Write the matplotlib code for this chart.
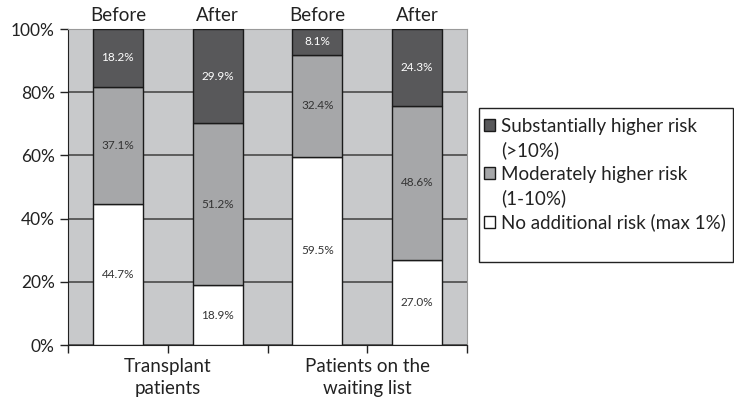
import matplotlib.pyplot as plt
from matplotlib.patches import Rectangle
import numpy as np

plt.rcParams['font.family'] = ['Lato', 'DejaVu Sans']

# data (percent)
bar_labels = ["Before", "After", "Before", "After"]
groups = ["Transplant\npatients", "Patients on the\nwaiting list"]
no_risk = [44.7, 18.9, 59.5, 27.0]
moderate = [37.1, 51.2, 32.4, 48.6]
substantial = [18.2, 29.9, 8.1, 24.3]
legend_lines = ["Substantially higher risk", "(>10%)",
                "Moderately higher risk", "(1-10%)",
                "No additional risk (max 1%)"]

colors = {"sub": "#58585a", "mod": "#a6a7a9", "no": "#ffffff"}
bg = "#c8c9cb"
txt = "#222222"

fig = plt.figure(figsize=(7.34, 3.98), dpi=100)
ax = fig.add_axes([68 / 734, 1 - 345 / 398, (467 - 68) / 734, (345 - 29) / 398])
ax.set_facecolor(bg)

x = np.arange(len(bar_labels))
w = 0.5
no_arr = np.array(no_risk)
mod_arr = np.array(moderate)
sub_arr = np.array(substantial)

b_no = ax.bar(x, no_arr, w, color=colors["no"], edgecolor="#1a1a1a", linewidth=1, zorder=3)
b_mod = ax.bar(x, mod_arr, w, bottom=no_arr, color=colors["mod"], edgecolor="#1a1a1a", linewidth=1, zorder=3)
b_sub = ax.bar(x, sub_arr, w, bottom=no_arr + mod_arr, color=colors["sub"], edgecolor="#1a1a1a", linewidth=1, zorder=3)

# value labels in the middle of each segment
for vals, bottoms, tc in [(no_arr, np.zeros(4), "#333333"),
                          (mod_arr, no_arr, "#333333"),
                          (sub_arr, no_arr + mod_arr, "white")]:
    for xi, v, b in zip(x, vals, bottoms):
        ax.text(xi, b + v / 2, f"{v:.1f}%", ha="center", va="center",
                fontsize=8.5, color=tc, zorder=4)

# bar titles above
for xi, lab in zip(x, bar_labels):
    ax.text(xi, 101.5, lab, ha="center", va="bottom", fontsize=13.5, color=txt)

ax.set_xlim(-0.5, 3.5)
ax.set_ylim(0, 100)
ax.set_yticks(np.arange(0, 101, 20))
ax.set_yticklabels([f"{v}%" for v in range(0, 101, 20)], fontsize=12.5, color=txt)
ax.yaxis.grid(True, color="#4a4a4a", linewidth=1.2, zorder=1)
ax.set_axisbelow(True)

ax.set_xticks([-0.5, 0.5, 1.5, 2.5, 3.5])
ax.set_xticklabels([])
for gx, g in zip([0.5, 2.5], groups):
    ax.text(gx, -4, g, ha="center", va="top", fontsize=13.5, color=txt,
            linespacing=1.35)

ax.tick_params(axis="both", length=6, width=1, color=txt)
for s in ["top", "right"]:
    ax.spines[s].set_color("#9a9a9a")
ax.spines["left"].set_color(txt)
ax.spines["bottom"].set_color(txt)

# legend: continuation lines get an empty handle
blank = Rectangle((0, 0), 1, 1, fill=False, edgecolor="none", linewidth=0)
handles = [b_sub[0], blank, b_mod[0], blank, b_no[0]]
leg = fig.legend(handles, legend_lines, loc="upper left",
                 bbox_to_anchor=(484 / 734, 1 - 118 / 398),
                 frameon=False, fontsize=13.5,
                 handlelength=0.6, handleheight=0.6, handletextpad=0.3,
                 borderpad=0, labelspacing=0.34, borderaxespad=0)
for t in leg.get_texts():
    t.set_color(txt)

frame = Rectangle((479 / 734, 1 - 262 / 398), 1 - 479 / 734 - 0.002, (262 - 108) / 398,
                  transform=fig.transFigure, fill=False, edgecolor=txt, linewidth=1)
fig.add_artist(frame)

fig.savefig("out.png", dpi=100)
